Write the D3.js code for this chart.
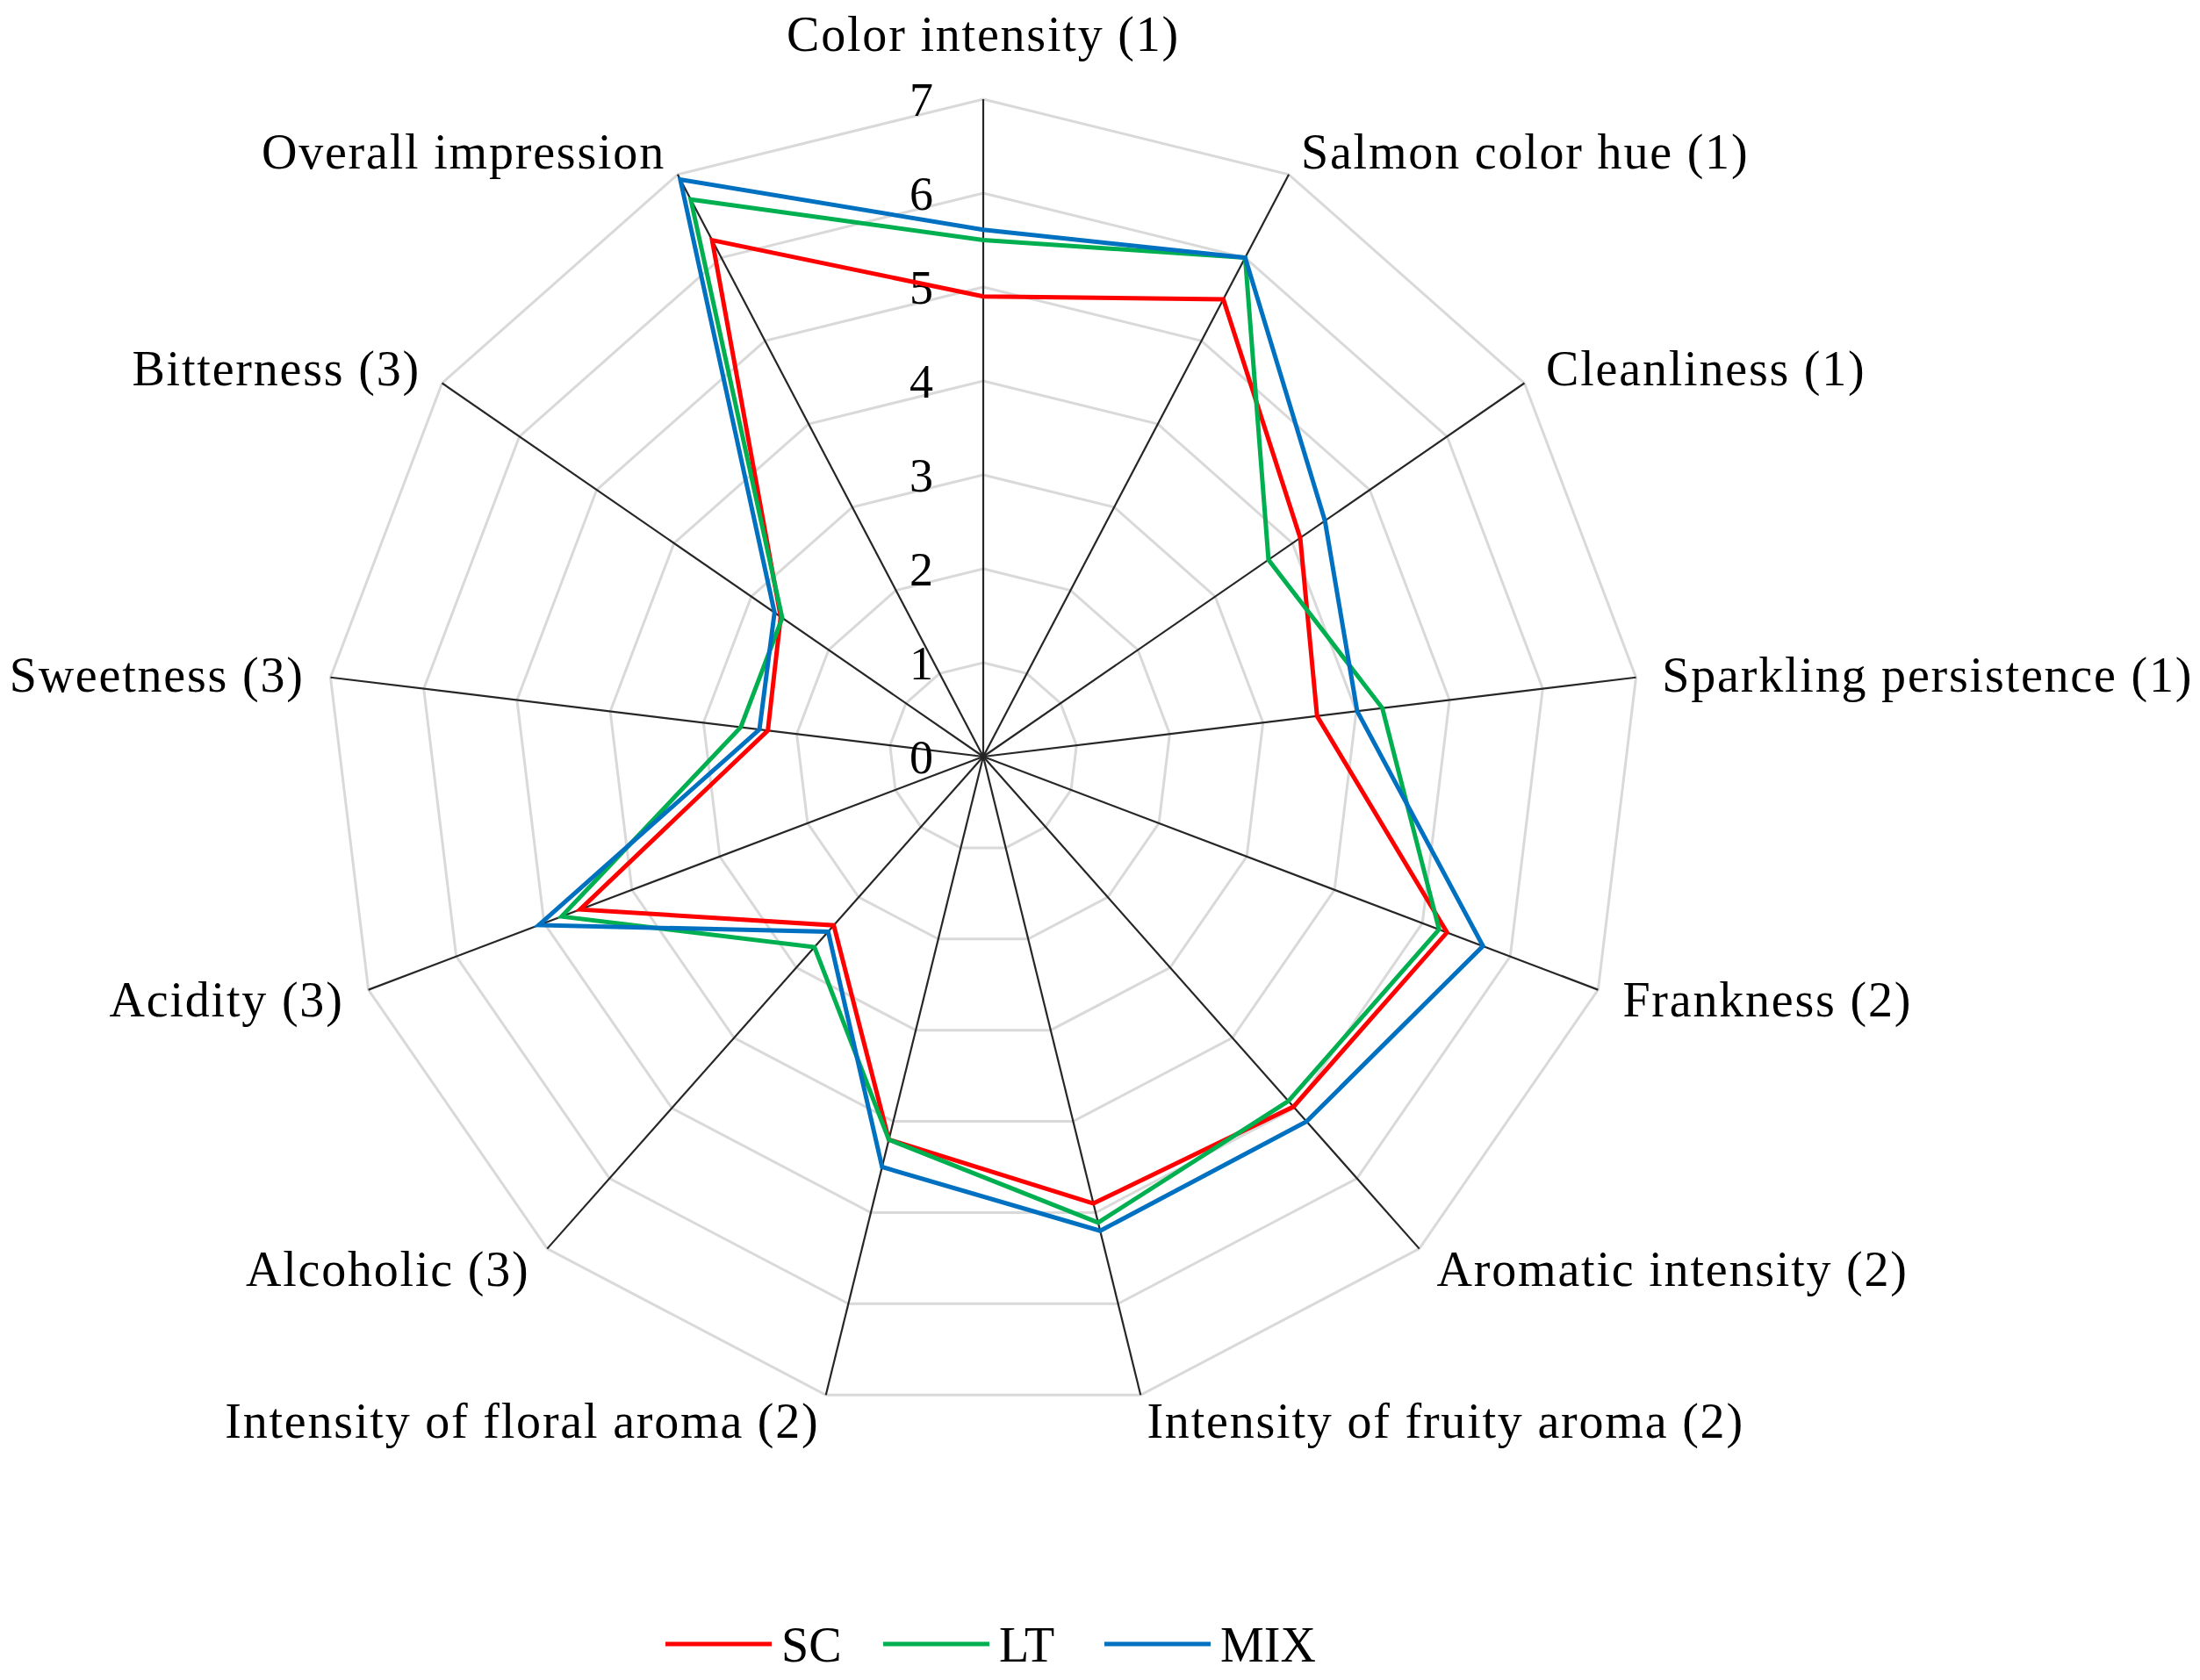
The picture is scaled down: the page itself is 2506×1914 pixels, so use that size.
<!DOCTYPE html>
<html>
<head>
<meta charset="utf-8">
<script src="https://cdn.jsdelivr.net/npm/d3@7"></script>
<style>
  body { margin: 0; background: #fff; }
  text { font-family: "Liberation Serif", "DejaVu Serif", serif; fill: #000; }
</style>
</head>
<body>
<script>
const categories = [
  "Color intensity (1)", "Salmon color hue (1)", "Cleanliness (1)",
  "Sparkling persistence (1)", "Frankness (2)", "Aromatic intensity (2)",
  "Intensity of fruity aroma (2)", "Intensity of floral aroma (2)",
  "Alcoholic (3)", "Acidity (3)", "Sweetness (3)", "Bitterness (3)",
  "Overall impression"
];
const SC  = [4.90, 5.50, 4.10, 3.58, 5.28, 4.98, 4.90, 4.20, 2.40, 4.59, 2.31, 2.62, 6.21];
const LT  = [5.50, 6.00, 3.69, 4.28, 5.19, 4.90, 5.11, 4.20, 2.71, 4.80, 2.60, 2.60, 6.70];
const MIX = [5.61, 6.00, 4.42, 4.01, 5.69, 5.19, 5.20, 4.50, 2.49, 5.06, 2.40, 2.70, 6.94];
const ticks = [0, 1, 2, 3, 4, 5, 6, 7];
const seriesNames = ["SC", "LT", "MIX"];
const seriesColors = ["#ff0000", "#00b050", "#0070c0"];

const width = 2506, height = 1914;
const cx = 1120, cy = 862, radius = 749;
const fontSize = 54;

const r = d3.scaleLinear().domain([0, 7]).range([0, radius]);
const angle = d3.scaleLinear().domain([0, categories.length]).range([0, 2 * Math.PI]);

// point at value v on axis i
function pt(i, v) {
  const a = angle(i);
  return [Math.sin(a) * r(v), -Math.cos(a) * r(v)];
}

const svg = d3.select("body").append("svg")
  .attr("width", width)
  .attr("height", height);

const g = svg.append("g")
  .attr("transform", `translate(${cx},${cy})`);

// grid polygons
g.append("g")
  .selectAll("polygon")
  .data(ticks.slice(1))
  .join("polygon")
    .attr("points", t => categories.map((c, i) => pt(i, t).join(",")).join(" "))
    .attr("fill", "none")
    .attr("stroke", "#d9d9d9")
    .attr("stroke-width", 3);

// spokes
g.append("g")
  .selectAll("line")
  .data(categories)
  .join("line")
    .attr("x1", 0)
    .attr("y1", 0)
    .attr("x2", (c, i) => pt(i, 7)[0])
    .attr("y2", (c, i) => pt(i, 7)[1])
    .attr("stroke", "#262626")
    .attr("stroke-width", 2.2);

// value labels on the vertical axis
g.append("g")
  .selectAll("text")
  .data(ticks)
  .join("text")
    .attr("x", -57)
    .attr("y", t => -r(t))
    .attr("dy", "0.35em")
    .attr("text-anchor", "end")
    .attr("font-size", fontSize)
    .text(t => t);

// series
const line = d3.line().curve(d3.curveLinearClosed);
[SC, LT, MIX].forEach((vals, k) => {
  g.append("path")
    .attr("d", line(vals.map((v, i) => pt(i, v))))
    .attr("fill", "none")
    .attr("stroke", seriesColors[k])
    .attr("stroke-width", 5)
    .attr("stroke-linejoin", "miter");
});

// category labels
g.append("g")
  .selectAll("text")
  .data(categories)
  .join("text")
    .attr("font-size", 56)
    .attr("letter-spacing", "1.8px")
    .each(function(c, i) {
      const a = angle(i);
      const s = Math.sin(a), co = -Math.cos(a);
      const [ex, ey] = pt(i, 7);
      const t = d3.select(this);
      if (Math.abs(s) < 0.05) {
        t.attr("x", ex).attr("y", ey - 55).attr("text-anchor", "middle");
      } else {
        t.attr("x", ex + s * 30)
          .attr("y", ey + co * 30)
          .attr("dy", "0.35em")
          .attr("text-anchor", s > 0 ? "start" : "end");
      }
    })
    .text(c => c);

// legend
const legend = svg.append("g")
  .attr("transform", "translate(758,1873)");
const legendX = [0, 248, 500];
seriesNames.forEach((name, k) => {
  const lg = legend.append("g").attr("transform", `translate(${legendX[k]},0)`);
  lg.append("line")
    .attr("x1", 0).attr("x2", 121)
    .attr("y1", 0).attr("y2", 0)
    .attr("stroke", seriesColors[k])
    .attr("stroke-width", 5);
  lg.append("text")
    .attr("x", 132)
    .attr("dy", "0.35em")
    .attr("font-size", 56)
    .text(name);
});
</script>
</body>
</html>
